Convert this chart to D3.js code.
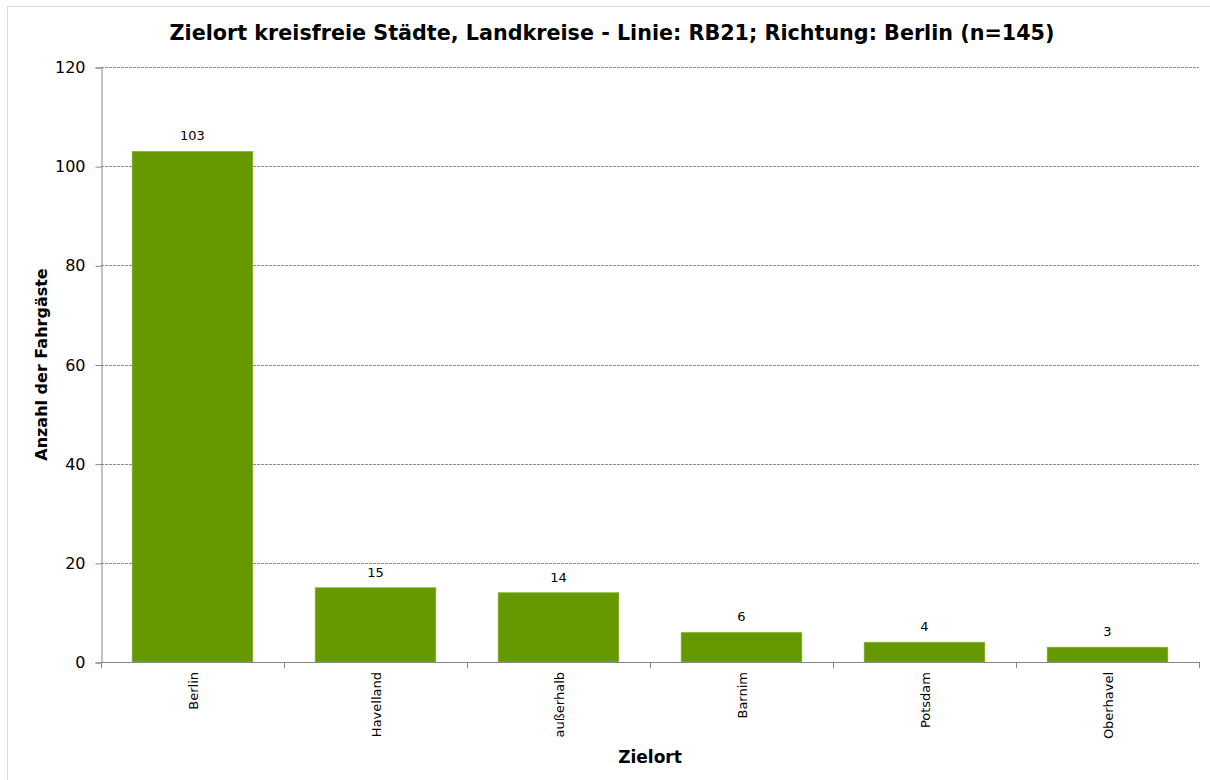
<!DOCTYPE html>
<html>
<head>
<meta charset="utf-8">
<script src="https://cdn.jsdelivr.net/npm/d3@7"></script>
<style>
  html, body { margin: 0; padding: 0; background: #fff; }
  svg { display: block; }
</style>
</head>
<body>
<svg id="chart" width="1210" height="780"></svg>
<script>
const categories = ["Berlin", "Havelland", "außerhalb", "Barnim", "Potsdam", "Oberhavel"];
const values = [103, 15, 14, 6, 4, 3];
const yTicks = [0, 20, 40, 60, 80, 100, 120];
const titleText = "Zielort kreisfreie Städte, Landkreise - Linie: RB21; Richtung: Berlin (n=145)";
const xTitle = "Zielort";
const yTitle = "Anzahl der Fahrgäste";

(function () {
const svg = d3.select("#chart");
const font = "Tahoma, 'DejaVu Sans', Verdana, sans-serif";

// outer chart frame
svg.append("rect").attr("x", 7.5).attr("y", 6.5).attr("width", 1220).attr("height", 790)
  .attr("fill", "none").attr("stroke", "#d9d9d9").attr("stroke-width", 1);

const pl = 101, pr = 1199, pt = 67, pb = 662;

const x = d3.scaleBand().domain(categories).range([pl, pr]).paddingInner(0.34).paddingOuter(0.17);
const xEdges = d3.scaleBand().domain(categories).range([pl, pr]).padding(0);
const y = d3.scaleLinear().domain([0, 120]).range([pb, pt]);

// gridlines
svg.append("g").selectAll("line").data(yTicks.filter(d => d > 0)).join("line")
  .attr("x1", pl).attr("x2", pr)
  .attr("y1", d => Math.round(y(d)) + 0.5).attr("y2", d => Math.round(y(d)) + 0.5)
  .attr("stroke", "#8c8c8c").attr("stroke-width", 1).attr("stroke-dasharray", "3,1");

// bars
svg.append("g").selectAll("rect").data(values).join("rect")
  .attr("x", (d, i) => x(categories[i]))
  .attr("y", d => y(d))
  .attr("width", x.bandwidth())
  .attr("height", d => y(0) - y(d))
  .attr("fill", "#669900")
  .attr("stroke", "#8fbf3f").attr("stroke-width", 0.6);

// value labels
svg.append("g").selectAll("text").data(values).join("text")
  .attr("x", (d, i) => x(categories[i]) + x.bandwidth() / 2)
  .attr("y", d => y(d) - 11)
  .attr("text-anchor", "middle")
  .attr("font-family", font).attr("font-size", 13).attr("fill", "#000")
  .text(d => d);

// y axis
const yAxis = d3.axisLeft(y).tickValues(yTicks).tickSize(6).tickPadding(10).tickFormat(d3.format("d"));
const gy = svg.append("g").attr("transform", `translate(${pl + 0.5},0.5)`).call(yAxis);
gy.select(".domain").attr("stroke", "#868686");
gy.selectAll(".tick line").attr("stroke", "#868686");
gy.selectAll(".tick text").attr("font-family", font).attr("font-size", 16).attr("fill", "#000");

// x axis line and ticks
svg.append("line").attr("x1", pl).attr("x2", pr)
  .attr("y1", pb + 0.5).attr("y2", pb + 0.5).attr("stroke", "#868686");
const edges = categories.map(c => xEdges(c)).concat([pr]);
svg.append("g").selectAll("line").data(edges).join("line")
  .attr("x1", d => Math.round(d) + 0.5).attr("x2", d => Math.round(d) + 0.5)
  .attr("y1", pb).attr("y2", pb + 6).attr("stroke", "#868686");

// x labels (rotated)
svg.append("g").selectAll("text").data(categories).join("text")
  .attr("transform", d => `translate(${x(d) + x.bandwidth() / 2 + 5},${pb + 10}) rotate(-90)`)
  .attr("text-anchor", "end")
  .attr("font-family", font).attr("font-size", 13).attr("fill", "#000")
  .text(d => d);

// title
svg.append("text").attr("x", 612).attr("y", 40).attr("text-anchor", "middle")
  .attr("font-family", font).attr("font-size", 20.7).attr("font-weight", "bold").attr("fill", "#000")
  .text(titleText);

// axis titles
svg.append("text").attr("x", (pl + pr) / 2).attr("y", 763).attr("text-anchor", "middle")
  .attr("font-family", font).attr("font-size", 17).attr("font-weight", "bold").attr("fill", "#000")
  .text(xTitle);

svg.append("text").attr("transform", `translate(47,${(pt + pb) / 2}) rotate(-90)`)
  .attr("text-anchor", "middle")
  .attr("font-family", font).attr("font-size", 16).attr("font-weight", "bold").attr("fill", "#000")
  .text(yTitle);
})();
</script>
</body>
</html>
